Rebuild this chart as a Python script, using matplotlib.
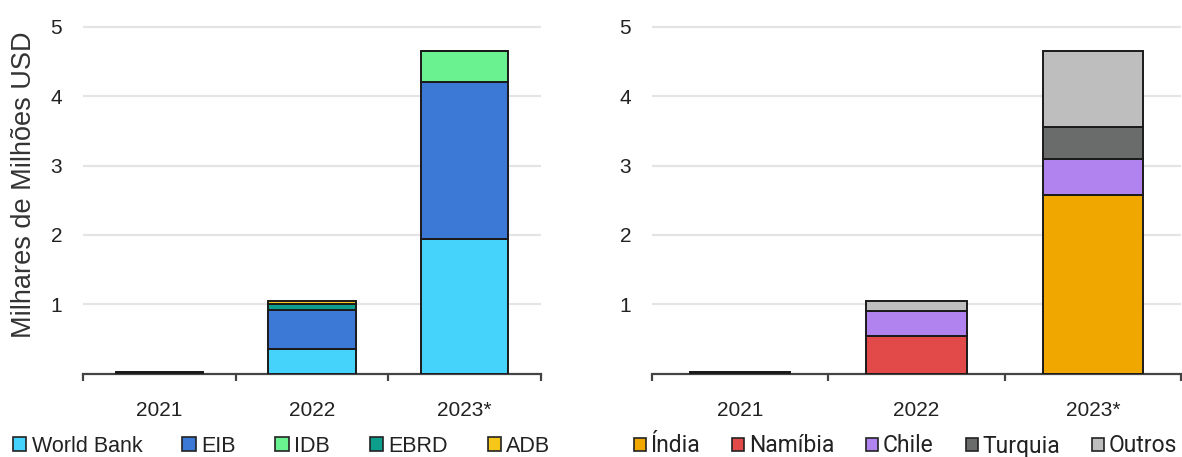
import matplotlib
matplotlib.use("Agg")
import matplotlib.pyplot as plt
from matplotlib.patches import Patch
import numpy as np

# Years on the x axis
years = ["2021", "2022", "2023*"]

# Left panel: by lender (thousands of millions USD)
lenders = ["World Bank", "EIB", "IDB", "EBRD", "ADB"]
world_bank = [0.015, 0.35, 1.94]
eib = [0.0, 0.56, 2.27]
idb = [0.0, 0.0, 0.45]
ebrd = [0.0, 0.10, 0.0]
adb = [0.0, 0.03, 0.0]
lender_colors = ["#45D2FB", "#3C78D5", "#6AF290", "#0E9E8C", "#F6C619"]

# Right panel: by country
countries = ["Índia", "Namíbia", "Chile", "Turquia", "Outros"]
india = [0.015, 0.0, 2.58]
namibia = [0.0, 0.54, 0.0]
chile = [0.0, 0.36, 0.51]
turquia = [0.0, 0.0, 0.46]
outros = [0.0, 0.15, 1.11]
country_colors = ["#F0A800", "#E24949", "#B083EE", "#6A6B6B", "#BEBEBE"]

yticks = [1, 2, 3, 4, 5]

W, H = 1182, 457
fig = plt.figure(figsize=(W / 100, H / 100), dpi=100)

px_per_unit = 69.3
ytop = 5.15
y0_px = 373.5
ax_h = ytop * px_per_unit / H
ax_b = (H - y0_px) / H

ax1 = fig.add_axes([83 / W, ax_b, 458 / W, ax_h])
ax2 = fig.add_axes([652 / W, ax_b, 529 / W, ax_h])

FONT = "Liberation Sans"
TXT = "#222222"


def stacked(ax, series, colors):
    x = np.arange(len(years))
    bottom = np.zeros(len(years))
    for vals, c in zip(series, colors):
        vals = np.asarray(vals, dtype=float)
        ax.bar(x, vals, width=0.57, bottom=bottom, color=c,
               edgecolor="#1a1a1a", linewidth=1.4, zorder=3)
        bottom += vals


def style(ax):
    ax.set_xlim(-0.5, 2.5)
    ax.set_ylim(0, ytop)
    for s in ["top", "right", "left"]:
        ax.spines[s].set_visible(False)
    ax.spines["bottom"].set_color("#444444")
    ax.spines["bottom"].set_linewidth(1.6)
    ax.set_yticks(yticks)
    ax.set_yticklabels([str(t) for t in yticks], fontsize=15,
                       family=FONT, color=TXT)
    ax.tick_params(axis="y", length=0, pad=15)
    ax.yaxis.grid(True, color="#E4E4E4", linewidth=1.6, zorder=0)
    ax.set_axisbelow(True)
    ax.set_xticks(np.arange(len(years)))
    ax.set_xticklabels(years, fontsize=15, family=FONT, color=TXT)
    ax.tick_params(axis="x", length=0, pad=19.5)
    ax.set_xticks(np.arange(-0.5, len(years)), minor=True)
    ax.tick_params(axis="x", which="minor", length=5, width=1.6,
                   color="#444444", direction="out")


stacked(ax1, [world_bank, eib, idb, ebrd, adb], lender_colors)
stacked(ax2, [india, namibia, chile, turquia, outros], country_colors)
style(ax1)
style(ax2)

ax1.set_ylabel("Milhares de Milhões USD", fontsize=19.5, family=FONT,
               color="#333333")
ax1.yaxis.set_label_coords(-0.10, 0.53)

# Legends below each panel
h1 = [Patch(facecolor=c, edgecolor="#222222", linewidth=1.2) for c in lender_colors]
fig.legend(h1, lenders, loc="center left", bbox_to_anchor=(13 / W, 11 / H),
           ncol=5, frameon=False, borderpad=0, borderaxespad=0,
           handlelength=0.62, handleheight=0.62, handletextpad=0.25,
           columnspacing=1.85, prop={"family": FONT, "size": 15.5},
           labelcolor=TXT)

h2 = [Patch(facecolor=c, edgecolor="#222222", linewidth=1.2) for c in country_colors]
fig.legend(h2, countries, loc="center left", bbox_to_anchor=(634 / W, 11 / H),
           ncol=5, frameon=False, borderpad=0, borderaxespad=0,
           handlelength=0.52, handleheight=0.52, handletextpad=0.2,
           columnspacing=1.4, prop={"family": "Roboto", "size": 16.5},
           labelcolor=TXT)

fig.savefig("out.png", dpi=100)
